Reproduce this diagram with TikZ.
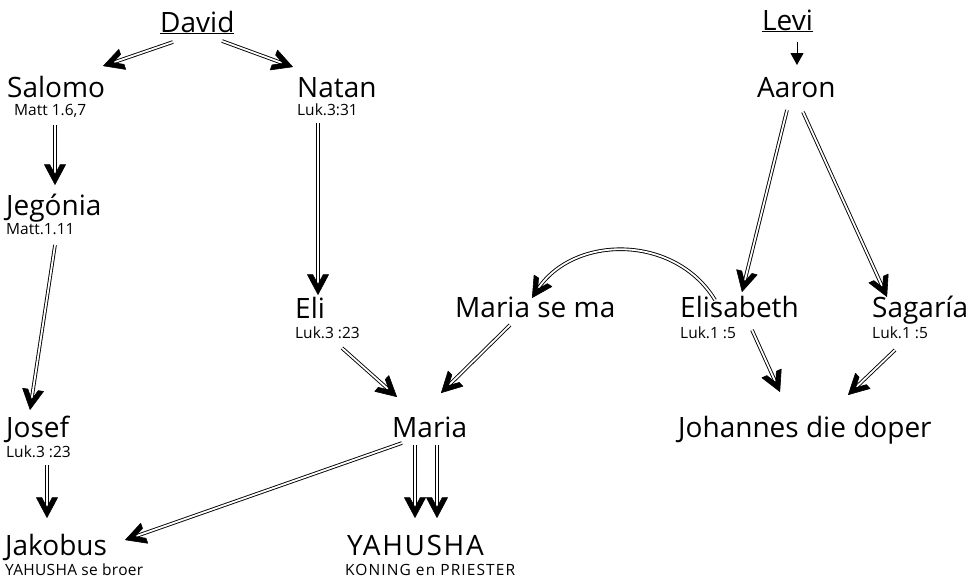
\documentclass[tikz,border=0pt]{standalone}
\usepackage{fontspec}
\setmainfont{Open Sans}
\usetikzlibrary{arrows.meta,calc}
\tikzset{
  person/.style={anchor=base west, inner sep=0pt, font=\fontsize{28}{32}\selectfont},
  ref/.style={anchor=base west, inner sep=0pt, font=\fontsize{15.5}{18}\selectfont},
  dblline/.style={draw=black, line width=0.9pt, double=white, double distance=1.8pt, shorten >=9pt},
  chevron/.style={fill=black, draw=black, line width=0.6pt, line join=round},
  single/.style={draw=black, line width=1pt, -{Triangle[length=12pt,width=13pt]}}
}
\newcommand\chev[2]{% #1: point the arrow comes from, #2: tip
  \coordinate (ctip) at ($(#2)!0.5pt!(#1)$);
  \coordinate (cnotch) at ($(ctip)!10pt!(#1)$);
  \fill[chevron] (ctip) -- ($(ctip)!22.5pt!28:(#1)$) -- ($(cnotch)!11.2pt!28:(#1)$)
     -- (cnotch) -- ($(cnotch)!11.2pt!-28:(#1)$) -- ($(ctip)!22.5pt!-28:(#1)$) -- cycle;}
\newcommand\dblarr[2]{%
  \draw[dblline] (#1) -- (#2);
  \chev{#1}{#2}}
\begin{document}
\begin{tikzpicture}[x=1pt,y=-1pt]
\useasboundingbox[fill=white] (0,0) rectangle (978,579);
% nodes
\node[person] (david) at (160,32) {\underline{David}};
\node[person] (levi) at (762,30) {\underline{Levi}};
\node[person] (salomo) at (7,97) {Salomo};
\node[ref] (salomoref) at (14,115) {Matt 1.6,7};
\node[person] (natan) at (297,97) {Natan};
\node[ref] (natanref) at (297,115) {Luk.3:31};
\node[person] (aaron) at (757,97) {Aaron};
\node[person] (jegonia) at (6,215) {Jegónia};
\node[ref] (jegoniaref) at (6,234) {Matt.1.11};
\node[person] (eli) at (295,318) {Eli};
\node[ref] (eliref) at (295,338) {Luk.3 :23};
\node[person] (mariama) at (455,317) {Maria se ma};
\node[person] (elisabeth) at (680,317) {Elisabeth};
\node[ref] (elisabethref) at (680,338) {Luk.1 :5};
\node[person] (sagaria) at (872,317) {Sagaría};
\node[ref] (sagariaref) at (872,338) {Luk.1 :5};
\node[person] (josef) at (6,437) {Josef};
\node[ref] (josefref) at (6,457) {Luk.3 :23};
\node[person] (maria) at (392,437) {Maria};
\node[person] (johannes) at (678,437) {Johannes die doper};
\node[person] (jakobus) at (5,555) {Jakobus};
\node[ref] (jakobusref) at (5,575) {\addfontfeature{LetterSpace=2}YAHUSHA se broer};
\node[person] (yahusha) at (347,555) {\addfontfeature{LetterSpace=6}YAHUSHA};
\node[ref] (yahusharef) at (345,575) {\addfontfeature{LetterSpace=7}KONING en PRIESTER};
% connector end points
\coordinate (david-l) at (173,42);   \coordinate (salomo-in) at (103,66);
\coordinate (david-r) at (222,41);   \coordinate (natan-in) at (293,67);
\coordinate (salomo-out) at (55,125); \coordinate (jegonia-in) at (55,185);
\coordinate (natan-out) at (318,123); \coordinate (eli-in) at (318,295);
\coordinate (jegonia-out) at (55,245); \coordinate (josef-in) at (30,410);
\coordinate (eli-out) at (342,348);  \coordinate (maria-inl) at (397,397);
\coordinate (mariama-out) at (510,325); \coordinate (maria-inr) at (441,393);
\coordinate (josef-out) at (47,465); \coordinate (jakobus-inl) at (47,518);
\coordinate (maria-outl) at (402,443); \coordinate (jakobus-inr) at (125,540);
\coordinate (maria-out1) at (415,445); \coordinate (yahusha-in1) at (415,518);
\coordinate (maria-out2) at (437,445); \coordinate (yahusha-in2) at (437,518);
\coordinate (levi-out) at (797,42);  \coordinate (aaron-in) at (797,65);
\coordinate (aaron-outl) at (787,110); \coordinate (elisabeth-in) at (742,292);
\coordinate (aaron-outr) at (803,112); \coordinate (sagaria-in) at (887,297);
\coordinate (elisabeth-up) at (715,300); \coordinate (mariama-in) at (532,298);
\coordinate (curve-c1) at (675,234);  \coordinate (curve-c2) at (573,234);
\coordinate (elisabeth-out) at (752,330); \coordinate (johannes-inl) at (780,392);
\coordinate (sagaria-out) at (895,350); \coordinate (johannes-inr) at (848,395);
% connectors
\dblarr{david-l}{salomo-in}
\dblarr{david-r}{natan-in}
\dblarr{salomo-out}{jegonia-in}
\dblarr{natan-out}{eli-in}
\dblarr{jegonia-out}{josef-in}
\dblarr{eli-out}{maria-inl}
\dblarr{mariama-out}{maria-inr}
\dblarr{josef-out}{jakobus-inl}
\dblarr{maria-outl}{jakobus-inr}
\dblarr{maria-out1}{yahusha-in1}
\dblarr{maria-out2}{yahusha-in2}
\draw[single] (levi-out) -- (aaron-in);
\dblarr{aaron-outl}{elisabeth-in}
\dblarr{aaron-outr}{sagaria-in}
\draw[dblline] (elisabeth-up) .. controls (curve-c1) and (curve-c2) .. (mariama-in);
\chev{curve-c2}{mariama-in}
\dblarr{elisabeth-out}{johannes-inl}
\dblarr{sagaria-out}{johannes-inr}
\end{tikzpicture}
\end{document}
